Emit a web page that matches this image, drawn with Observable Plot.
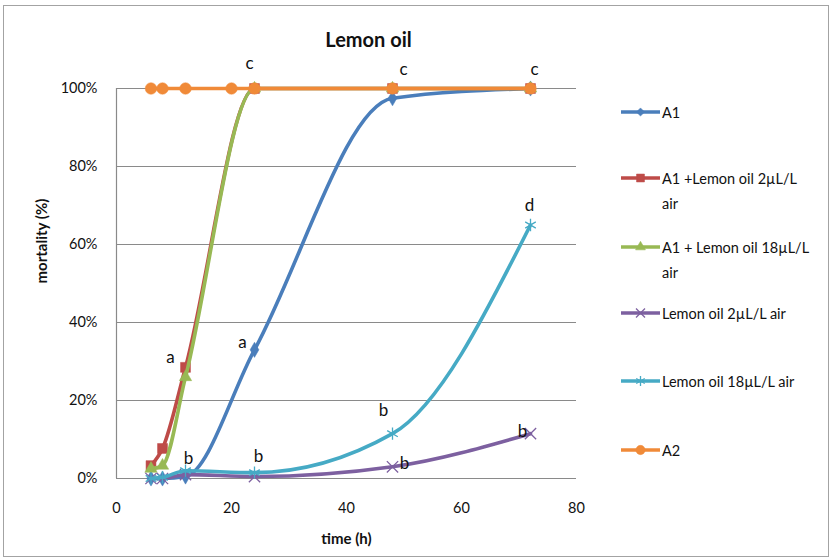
<!DOCTYPE html>
<html>
<head>
<meta charset="utf-8">
<script src="https://cdn.jsdelivr.net/npm/d3@7"></script>
<script src="https://cdn.jsdelivr.net/npm/@observablehq/plot@0.6"></script>
<style>
  body { margin: 0; background: #fff; font-family: Lato, "Open Sans", sans-serif; }
  #chart { position: relative; width: 832px; height: 560px; overflow: hidden; }
  #chart > svg { position: absolute; left: 0; top: 0; }
  .frame { position: absolute; left: 3px; top: 5px; width: 826px; height: 552px;
           border: 1.5px solid #a3a3a3; box-sizing: border-box; pointer-events: none; }
  .legend { position: absolute; left: 620px; top: 0; font-size: 14.5px; color: #111; line-height: 25px; }
  .item { position: absolute; left: 0; display: flex; align-items: flex-start; white-space: nowrap; }
  .item svg { display: block; flex: none; margin-top: 3px; }
  .item span { margin-left: 1px; }
</style>
</head>
<body>
<div id="chart"><div class="frame"></div></div>
<script>
// Sampling times (hours) and mortality (%) for each treatment
const times = [6, 8, 12, 24, 48, 72];
const timesA2 = [6, 8, 12, 20, 24, 48, 72];

const seriesNames = [
  "A1",
  "A1 +Lemon oil 2µL/L air",
  "A1 + Lemon oil 18µL/L air",
  "Lemon oil 2µL/L air",
  "Lemon oil 18µL/L air",
  "A2"
];
const legendLines = [
  ["A1"],
  ["A1 +Lemon oil 2µL/L", "air"],
  ["A1 + Lemon oil 18µL/L", "air"],
  ["Lemon oil 2µL/L air"],
  ["Lemon oil 18µL/L air"],
  ["A2"]
];

const a1 = [0, 0, 0.5, 33, 97.5, 100];
const a1Lemon2 = [3.3, 7.7, 28.5, 100, 100, 100];
const a1Lemon18 = [2.5, 3.3, 26, 100, 100, 100];
const lemon2 = [0, 0, 1, 0.5, 3, 11.5];
const lemon18 = [0, 0.3, 2, 1.5, 11.5, 65];
const a2 = [100, 100, 100, 100, 100, 100, 100];

const colors = ["#4a7ebb", "#be4b48", "#98b954", "#7d60a0", "#46aac5", "#f08a38"];
const symbols = ["diamond", "square", "triangle", "times", "asterisk", "circle"];
const symbolSizes = [4.6, 5.6, 4.6, 5.2, 5.8, 5.8];

const xTicks = [0, 20, 40, 60, 80];
const yTicks = [0, 20, 40, 60, 80, 100];

// Significance letters: series index, time, letter, label offset
const letterSeries = [5, 5, 5, 1, 0, 0, 4, 4, 3, 3, 4];
const letterTimes  = [24, 48, 72, 12, 24, 12, 24, 48, 48, 72, 72];
const letterText   = ["c", "c", "c", "a", "a", "b", "b", "b", "b", "b", "d"];
const letterDx     = [-5, 11, 4, -15, -12, 3, 4, -9, 12, -8, -1];
const letterDy     = [-25, -19, -19, -10, -7, -18, -16, -23, -3, -2, -19];

const seriesValues = [a1, a1Lemon2, a1Lemon18, lemon2, lemon18, a2];
const seriesTimes = [times, times, times, times, times, timesA2];

const rows = seriesValues.flatMap((vals, s) =>
  vals.map((v, i) => ({ s, name: seriesNames[s], time: seriesTimes[s][i], value: v }))
);
const valueAt = (s, t) => rows.find(r => r.s === s && r.time === t).value;
const letters = letterText.map((l, i) => ({
  letter: l, time: letterTimes[i], value: valueAt(letterSeries[i], letterTimes[i]),
  dx: letterDx[i], dy: letterDy[i]
}));

const font = "Lato, 'Open Sans', sans-serif";

const seriesMarks = seriesNames.flatMap((name, s) => {
  const data = rows.filter(r => r.s === s);
  const stroked = symbols[s] === "times" || symbols[s] === "asterisk";
  return [
    Plot.line(data, { x: "time", y: "value", stroke: colors[s], strokeWidth: 3.6, curve: "monotone-x" }),
    Plot.dot(data, {
      x: "time", y: "value", symbol: () => symbols[s], r: symbolSizes[s],
      fill: stroked ? "none" : colors[s], stroke: colors[s], strokeWidth: stroked ? 1.3 : 0.5
    })
  ];
});

const chart = Plot.plot({
  width: 832,
  height: 560,
  marginLeft: 116,
  marginRight: 256,
  marginTop: 88,
  marginBottom: 82,
  style: { fontFamily: font, background: "transparent", overflow: "visible" },
  x: { domain: [0, 80] },
  y: { domain: [0, 100] },
  marks: [
    Plot.gridY(yTicks, { stroke: "#8a8a8a", strokeOpacity: 1, strokeWidth: 1.2 }),
    Plot.ruleX([0], { y1: 0, y2: 100, stroke: "#8a8a8a", strokeWidth: 1.2 }),
    Plot.axisX(xTicks, { tickSize: 0, tickPadding: 24, fontSize: 14.5, fill: "#111", label: null }),
    Plot.axisY(yTicks, { tickSize: 0, tickPadding: 19, fontSize: 14.5, fill: "#111", label: null,
                         tickFormat: d => d + "%" }),
    ...seriesMarks,
    Plot.text(letters, { x: "time", y: "value", text: "letter", fontSize: 17, fill: "#111" }),
    Plot.text(["time (h)"], { frameAnchor: "bottom", dy: 65, fontSize: 15, fontWeight: "bold", fill: "#111" }),
    Plot.text(["mortality (%)"], { frameAnchor: "left", dx: -74, rotate: -90, fontSize: 15, fontWeight: "bold", fill: "#111" }),
    Plot.text(["Lemon oil"], { frameAnchor: "top", dx: 22, dy: -56, fontSize: 20, fontWeight: "bold", fill: "#111" })
  ]
});

// per-letter offsets (Plot's dx/dy are constants, so shift each label here)
const letterGroup = Array.from(chart.querySelectorAll("g[aria-label='text']"))[0];
letterGroup.querySelectorAll("text").forEach((node, i) => {
  const tr = node.getAttribute("transform") || "";
  node.setAttribute("transform", tr + ` translate(${letters[i].dx},${letters[i].dy})`);
});

const root = document.getElementById("chart");
root.insertBefore(chart, root.firstChild);

// legend
const symMap = { diamond: d3.symbolDiamond2, square: d3.symbolSquare, triangle: d3.symbolTriangle,
                 times: d3.symbolTimes, asterisk: d3.symbolAsterisk, circle: d3.symbolCircle };
const legendTops = [100, 166, 235, 301, 369, 438];
const legend = document.createElement("div");
legend.className = "legend";
seriesNames.forEach((name, s) => {
  const item = document.createElement("div");
  item.className = "item";
  item.style.top = legendTops[s] + "px";
  const sw = d3.create("svg").attr("width", 41).attr("height", 18);
  sw.append("line").attr("x1", 1).attr("x2", 40).attr("y1", 9).attr("y2", 9)
    .attr("stroke", colors[s]).attr("stroke-width", 3.6);
  const stroked = symbols[s] === "times" || symbols[s] === "asterisk";
  const r = symbolSizes[s] * 0.8;
  sw.append("path").attr("transform", "translate(20.5,9)")
    .attr("d", d3.symbol(symMap[symbols[s]], Math.PI * r * r)())
    .attr("fill", stroked ? "none" : colors[s]).attr("stroke", colors[s])
    .attr("stroke-width", stroked ? 1.3 : 0.5);
  item.appendChild(sw.node());
  const span = document.createElement("span");
  span.innerHTML = legendLines[s].join("<br>");
  item.appendChild(span);
  legend.appendChild(item);
});
root.appendChild(legend);
</script>
</body>
</html>
